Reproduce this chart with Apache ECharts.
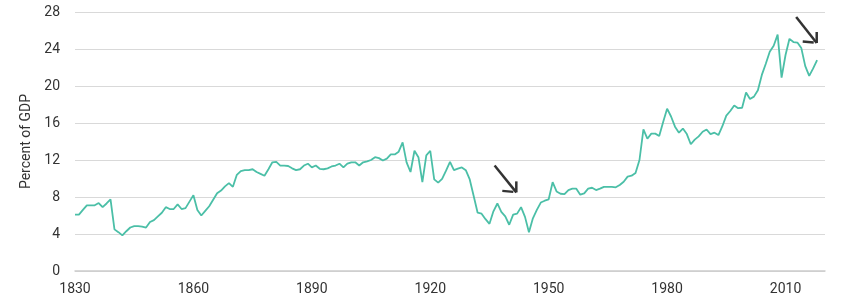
<!DOCTYPE html>
<html>
<head>
<meta charset="utf-8">
<script src="https://cdn.jsdelivr.net/npm/echarts@6/dist/echarts.min.js"></script>
<style>
html,body{margin:0;padding:0;background:#fff;}
#chart{width:841px;height:301px;}
</style>
</head>
<body>
<div id="chart"></div>
<script>
const startYear = 1830;
const values = [
  6.1, 6.1, 6.6, 7.1, 7.1, 7.1, 7.35, 6.9, 7.3, 7.75,      // 1830-1839
  4.5, 4.2, 3.85, 4.3, 4.7, 4.85, 4.85, 4.8, 4.7, 5.3,     // 1840-1849
  5.5, 5.9, 6.3, 6.9, 6.7, 6.7, 7.2, 6.7, 6.8, 7.5,        // 1850-1859
  8.2, 6.6, 6.0, 6.5, 7.0, 7.7, 8.4, 8.7, 9.15, 9.5,       // 1860-1869
  9.1, 10.4, 10.8, 10.9, 10.9, 11.0, 10.7, 10.5, 10.3, 11.0, // 1870-1879
  11.75, 11.8, 11.4, 11.4, 11.35, 11.1, 10.9, 11.0, 11.4, 11.6, // 1880-1889
  11.2, 11.4, 11.05, 11.0, 11.1, 11.3, 11.4, 11.6, 11.2, 11.6, // 1890-1899
  11.75, 11.75, 11.4, 11.75, 11.85, 12.0, 12.3, 12.2, 11.95, 12.15, // 1900-1909
  12.6, 12.6, 12.9, 13.9, 11.75, 10.7, 13.0, 12.3, 9.6, 12.5, // 1910-1919
  13.0, 9.9, 9.55, 9.95, 10.85, 11.8, 10.9, 11.06, 11.2, 10.9, // 1920-1929
  9.9, 8.1, 6.3, 6.2, 5.6, 5.1, 6.45, 7.3, 6.4, 5.9,       // 1930-1939
  5.0, 6.1, 6.2, 6.9, 5.85, 4.2, 5.7, 6.6, 7.4, 7.6,       // 1940-1949
  7.75, 9.6, 8.6, 8.35, 8.3, 8.75, 8.9, 8.9, 8.25, 8.4,    // 1950-1959
  8.9, 9.0, 8.75, 8.9, 9.1, 9.1, 9.1, 9.05, 9.3, 9.65,     // 1960-1969
  10.2, 10.3, 10.6, 12.0, 15.3, 14.3, 14.85, 14.85, 14.6, 16.1, // 1970-1979
  17.55, 16.7, 15.6, 14.95, 15.4, 14.8, 13.7, 14.2, 14.55, 15.05, // 1980-1989
  15.3, 14.8, 14.95, 14.7, 15.65, 16.8, 17.3, 17.9, 17.6, 17.65, // 1990-1999
  19.3, 18.6, 18.85, 19.55, 21.2, 22.4, 23.7, 24.35, 25.55, 20.9, // 2000-2009
  23.35, 25.1, 24.75, 24.7, 24.1, 22.15, 21.1, 21.9, 22.8  // 2010-2018
];
const yTicks = [0, 4, 8, 12, 16, 20, 24, 28];
const xTickYears = [1830, 1860, 1890, 1920, 1950, 1980, 2010];
const yAxisTitle = 'Percent of GDP';
// annotation arrows: [startYear, startValue, tipYear, tipValue]
const arrows = [
  [1936.3, 11.4, 1941.8, 8.5],
  [2012.7, 27.45, 2017.9, 24.65]
];

const seriesData = values.map((v, i) => [startYear + i, v]);

const chart = echarts.init(document.getElementById('chart'), null, {renderer: 'canvas'});
const fontFamily = 'Roboto, "DejaVu Sans", sans-serif';

chart.setOption({
  animation: false,
  backgroundColor: '#ffffff',
  grid: {left: 75, right: 16, top: 12, bottom: 30, containLabel: false},
  xAxis: {
    type: 'value',
    min: 1830,
    max: 2020,
    interval: 30,
    axisLine: {show: true, lineStyle: {color: '#cccccc', width: 1.5}},
    axisTick: {show: false},
    splitLine: {show: false},
    axisLabel: {
      color: '#333333', fontSize: 14, fontFamily: fontFamily, margin: 11,
      formatter: v => xTickYears.includes(v) ? String(v) : ''
    }
  },
  yAxis: {
    type: 'value',
    min: yTicks[0],
    max: yTicks[yTicks.length - 1],
    interval: 4,
    name: yAxisTitle,
    nameLocation: 'middle',
    nameGap: 42,
    nameTextStyle: {color: '#333333', fontSize: 14, fontFamily: fontFamily},
    axisLine: {show: false},
    axisTick: {show: false},
    splitLine: {lineStyle: {color: '#d9d9d9', width: 1}},
    axisLabel: {color: '#333333', fontSize: 14, fontFamily: fontFamily, margin: 15}
  },
  series: [{
    type: 'line',
    data: seriesData,
    showSymbol: false,
    symbol: 'none',
    lineStyle: {color: '#4bbfa7', width: 1.8},
    itemStyle: {color: '#4bbfa7'}
  }]
});

function drawArrows() {
  const elements = [];
  arrows.forEach(a => {
    const p0 = chart.convertToPixel({gridIndex: 0}, [a[0], a[1]]);
    const p1 = chart.convertToPixel({gridIndex: 0}, [a[2], a[3]]);
    elements.push({
      type: 'polyline',
      shape: {points: [p0, p1]},
      style: {stroke: '#333333', lineWidth: 2.5, fill: null},
      z: 100
    });
    elements.push({
      type: 'polyline',
      shape: {points: [[p1[0], p1[1] - 11], p1]},
      style: {stroke: '#333333', lineWidth: 2.5, fill: null},
      z: 100
    });
    elements.push({
      type: 'polyline',
      shape: {points: [[p1[0] - 3, p1[1] - 0.5], [p1[0] - 14, p1[1] - 1.5]]},
      style: {stroke: '#333333', lineWidth: 2.5, fill: null},
      z: 100
    });
  });
  chart.setOption({graphic: {elements: elements}});
}
drawArrows();
</script>
</body>
</html>
